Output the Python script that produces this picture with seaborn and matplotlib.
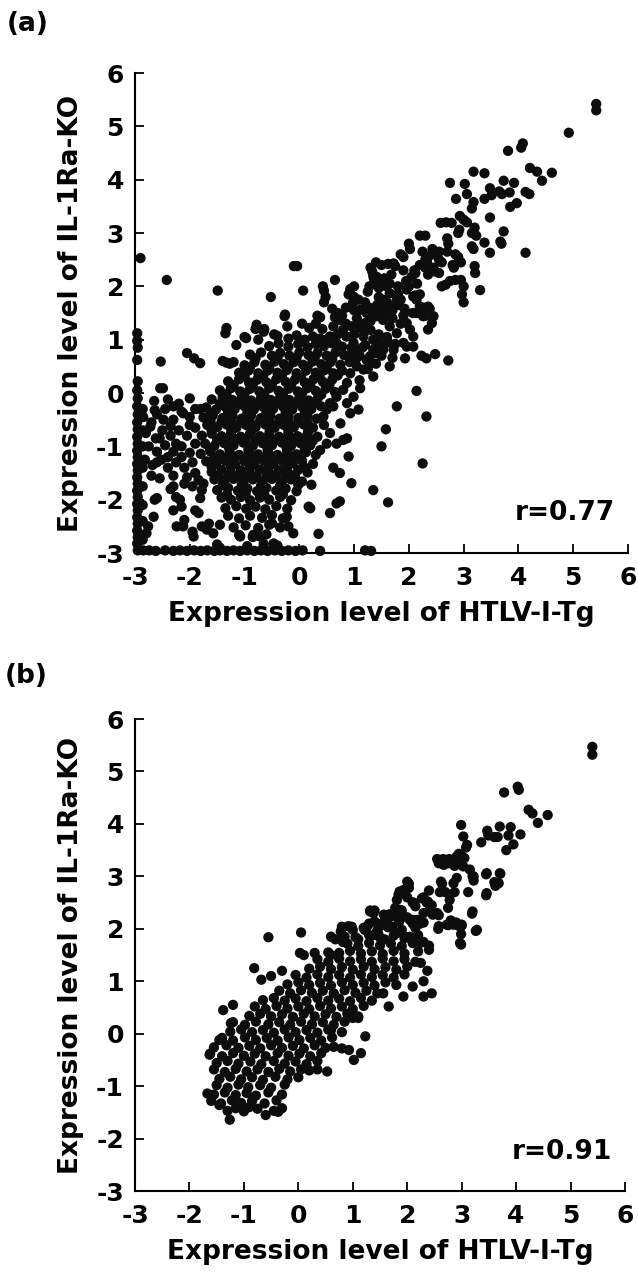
import matplotlib
matplotlib.use("Agg")
import pandas as pd
import matplotlib.pyplot as plt
import seaborn as sns

# --- panel (a): HTLV-I-Tg vs IL-1Ra-KO, r=0.77 ---
# values, grouped by region of the cloud
a_arm = [
    (5.42, 5.42), (5.42, 5.30), (4.92, 4.88), (3.81, 4.54), (4.05, 4.60), (4.08, 4.68),
    (4.21, 4.22), (4.34, 4.15), (4.61, 4.13), (4.43, 3.98), (3.18, 4.15), (3.38, 4.12),
    (2.75, 3.94), (3.02, 3.92), (2.86, 3.64), (3.06, 3.73), (3.18, 3.58), (3.15, 3.46),
    (3.38, 3.64), (3.48, 3.84), (3.51, 3.71), (3.73, 3.98), (3.65, 3.78), (3.70, 3.73),
    (3.92, 3.94), (3.84, 3.76), (4.13, 3.77), (4.20, 3.73), (3.97, 3.56), (3.85, 3.49),
    (3.48, 3.29), (3.73, 3.03), (3.67, 2.84), (3.69, 2.80), (3.48, 2.63), (4.13, 2.63),
    (3.38, 2.82), (3.20, 3.10), (3.15, 3.00), (3.23, 2.95), (3.15, 2.75), (3.18, 2.70),
    (2.93, 3.32), (3.00, 3.25), (3.06, 3.20), (2.58, 3.19), (2.68, 3.20), (2.78, 3.19),
    (2.90, 3.00), (2.92, 3.06), (2.70, 2.90), (2.72, 2.80), (2.55, 2.65), (2.70, 2.65),
    (2.85, 2.60), (2.90, 2.55), (2.80, 2.40), (2.82, 2.35), (2.95, 2.45), (2.55, 2.25),
    (3.20, 2.38), (3.21, 2.25), (2.95, 2.12), (2.85, 2.12), (2.75, 2.10), (2.60, 2.00),
    (2.67, 2.03), (3.30, 1.93), (3.00, 2.00), (2.97, 1.85), (3.00, 1.70), (2.43, 2.70),
    (2.45, 2.60), (2.30, 2.50), (2.33, 2.45), (2.25, 2.65), (2.45, 2.35), (2.47, 2.28),
    (2.30, 2.35), (2.35, 2.22), (2.20, 2.95), (2.30, 2.95), (2.00, 2.80), (2.02, 2.70),
    (1.85, 2.60), (1.90, 2.55), (2.10, 2.30), (2.12, 2.25), (1.90, 2.30), (2.05, 2.18),
    (1.95, 2.10), (2.15, 2.05), (2.00, 2.00), (1.50, 2.40), (1.62, 2.42), (1.75, 2.38),
    (1.68, 2.22), (1.55, 2.15), (1.65, 2.05), (1.80, 2.00), (1.45, 1.97), (1.30, 2.35),
    (1.33, 2.28), (1.36, 2.15), (1.28, 2.00), (1.25, 1.90), (1.40, 2.45), (1.72, 2.43),
    (1.35, 2.20), (1.41, 2.18), (1.38, 2.06), (1.53, 2.12), (1.59, 2.00), (1.65, 1.87),
    (1.78, 1.75), (1.53, 1.75), (1.72, 1.62), (2.35, 2.55), (2.60, 2.45), (2.20, 2.40),
    (2.55, 2.50),
]

a_mid = [
    (1.00, 2.00), (0.93, 1.95), (0.90, 1.85), (1.00, 1.80), (1.08, 1.75), (0.98, 1.70),
    (0.65, 2.12), (0.43, 2.00), (0.45, 1.92), (0.48, 1.80), (0.45, 1.70), (0.07, 1.92),
    (-0.10, 2.38), (-0.04, 2.38), (-0.52, 1.80), (-0.26, 1.47), (-1.49, 1.92),
    (-2.42, 2.12), (-2.90, 2.53),
    (0.33, 1.45), (0.38, 1.42), (0.60, 1.58), (0.70, 1.50), (0.78, 1.45), (0.65, 1.42),
    (1.28, 1.60), (1.35, 1.52), (1.42, 1.65), (1.57, 1.58), (1.64, 1.50),
    (1.82, 1.65), (1.92, 1.58), (2.07, 1.50), (2.20, 1.85), (2.27, 1.60), (2.35, 1.62),
    (2.12, 1.83), (2.30, 1.55), (2.38, 1.58), (2.30, 1.45),
    (1.96, 1.94), (2.08, 1.81), (2.14, 1.75), (2.20, 1.62), (2.14, 1.50), (2.26, 1.44),
    (2.45, 1.44), (2.42, 1.31), (2.35, 1.19),
    (1.11, 1.56), (1.23, 1.50), (1.41, 1.44), (1.53, 1.37), (1.65, 1.25), (1.78, 1.12),
    (1.90, 0.94), (2.02, 1.19), (2.08, 1.06), (1.96, 1.31), (1.20, 1.31),
    (0.74, 1.37), (0.62, 1.25), (0.80, 1.19), (0.56, 1.06), (0.68, 0.94), (0.86, 1.06),
    (0.99, 0.94), (1.05, 0.81), (0.93, 0.69), (1.17, 1.06), (1.35, 1.00), (1.53, 0.87),
    (1.72, 0.81), (1.96, 0.87), (2.08, 0.87),
    (1.10, 1.25), (1.30, 1.18), (1.45, 1.10), (1.60, 1.05), (1.85, 1.30), (1.70, 1.40),
    (1.90, 1.45), (0.95, 1.25), (1.05, 1.40), (1.20, 0.90), (1.45, 0.95), (1.62, 0.95),
    (0.50, 1.00), (0.70, 1.10), (0.85, 1.30), (1.00, 1.10), (1.15, 1.20), (1.30, 1.35),
    (1.50, 1.50), (1.70, 1.55), (1.85, 1.75), (1.00, 1.55), (0.85, 1.60), (1.20, 1.70),
    (1.45, 1.80), (1.60, 1.70), (1.80, 1.85), (1.15, 0.85), (1.30, 0.55), (0.95, 0.85),
    (0.75, -0.57), (0.93, -0.38), (0.99, -0.07), (1.11, 0.09), (1.08, -0.31), (0.87, -0.19),
    (0.62, -0.25), (0.50, -0.31), (0.44, -0.44),
    (1.35, 0.31), (1.17, 0.44), (1.05, 0.50), (0.93, 0.37), (0.87, 0.19), (0.80, 0.06),
    (0.68, -0.07), (0.56, -0.19),
    (1.23, 0.62), (1.29, 0.69), (1.41, 0.75), (1.53, 0.81), (1.35, 0.81), (1.10, 0.70),
    (1.25, 0.45),
]

a_outliers = [
    (1.93, 0.65), (2.23, 0.70), (2.32, 0.65), (2.48, 0.73), (2.72, 0.61), (1.65, 0.50),
    (2.14, 0.04), (2.32, -0.44), (2.25, -1.32), (1.78, -0.25), (1.58, -0.68), (1.50, -1.00),
    (1.35, -1.82), (1.62, -2.05), (0.95, -1.69), (0.62, -1.40), (0.74, -1.50), (0.90, -1.19),
    (0.80, -0.88), (0.87, -0.85), (0.68, -0.95), (0.56, -0.75), (0.38, -1.07), (0.22, -1.72),
    (0.20, -2.16), (0.56, -2.25), (0.68, -2.07), (0.74, -2.03), (0.35, -2.64), (0.17, -2.13),
]

a_upper_left = [
    (-1.33, 1.22), (-0.78, 1.28), (-0.64, 1.20), (-0.46, 1.10), (-0.22, 1.25), (0.05, 1.30),
    (0.18, 1.22), (0.30, 1.30), (0.42, 1.20), (-1.35, 1.12), (-0.97, 1.03), (-0.80, 1.20),
    (-0.65, 1.15), (-0.27, 1.44), (-1.40, 0.60), (-1.33, 0.57), (-1.27, 0.55), (-2.05, 0.75),
    (-1.92, 0.65), (-1.81, 0.56), (-2.53, 0.59), (-2.49, 0.09), (-2.64, -0.32),
]

a_core = [
    (-1.00, 1.05), (-0.75, 1.00), (-0.40, 1.07), (-0.20, 1.02), (-0.05, 1.08), (0.10, 1.00),
    (0.25, 1.06), (0.38, 1.02),
    (-1.15, 0.90), (-0.55, 0.88), (-0.38, 0.93), (-0.20, 0.87), (-0.02, 0.92), (0.15, 0.86),
    (0.30, 0.92), (0.45, 0.88), (0.60, 0.93), (0.78, 0.87), (1.40, 0.86), (1.75, 0.92),
    (-0.90, 0.72), (-0.70, 0.76), (-0.50, 0.70), (-0.35, 0.75), (-0.18, 0.70), (0.00, 0.76),
    (0.17, 0.71), (0.33, 0.75), (0.50, 0.70), (0.66, 0.76), (0.82, 0.71), (1.05, 0.66),
    (1.50, 0.70), (1.70, 0.66),
    (-1.20, 0.58), (-1.00, 0.52), (-0.82, 0.58), (-0.62, 0.53), (-0.45, 0.59), (-0.28, 0.54),
    (-0.10, 0.58), (0.07, 0.53), (0.24, 0.59), (0.40, 0.54), (0.57, 0.58), (0.75, 0.53),
    (0.92, 0.58), (1.40, 0.55),
    (-1.10, 0.38), (-0.93, 0.42), (-0.75, 0.37), (-0.58, 0.42), (-0.40, 0.38), (-0.23, 0.43),
    (-0.05, 0.37), (0.12, 0.42), (0.30, 0.38), (0.46, 0.43), (0.62, 0.37), (0.78, 0.42),
    (-1.30, 0.22), (-1.10, 0.26), (-0.92, 0.20), (-0.77, 0.25), (-0.60, 0.20), (-0.42, 0.26),
    (-0.25, 0.21), (-0.08, 0.25), (0.10, 0.20), (0.26, 0.26), (0.43, 0.21), (0.60, 0.25),
    (1.10, 0.24),
    (-1.45, 0.05), (-1.25, 0.09), (-1.08, 0.03), (-0.90, 0.08), (-0.73, 0.03), (-0.55, 0.09),
    (-0.38, 0.04), (-0.20, 0.08), (-0.03, 0.03), (0.14, 0.09), (0.30, 0.04), (0.48, 0.08),
    (0.65, 0.02),
    (-1.60, -0.12), (-1.40, -0.08), (-1.22, -0.13), (-1.05, -0.08), (-0.88, -0.14),
    (-0.70, -0.09), (-0.52, -0.13), (-0.35, -0.08), (-0.18, -0.13), (0.00, -0.09),
    (0.17, -0.14), (0.34, -0.09),
    (-1.70, -0.27), (-1.52, -0.31), (-1.35, -0.26), (-1.18, -0.30), (-1.00, -0.25),
    (-0.83, -0.31), (-0.66, -0.26), (-0.48, -0.30), (-0.30, -0.25), (-0.13, -0.31),
    (0.05, -0.26), (0.22, -0.30), (0.40, -0.25),
    (-1.75, -0.46), (-1.58, -0.42), (-1.40, -0.47), (-1.22, -0.43), (-1.05, -0.48),
    (-0.88, -0.42), (-0.70, -0.47), (-0.53, -0.43), (-0.36, -0.48), (-0.20, -0.42),
    (-0.02, -0.47), (0.15, -0.43), (0.32, -0.48),
    (-1.68, -0.60), (-1.50, -0.64), (-1.33, -0.59), (-1.15, -0.65), (-0.97, -0.60),
    (-0.80, -0.64), (-0.62, -0.59), (-0.45, -0.65), (-0.28, -0.60), (-0.10, -0.64),
    (0.08, -0.59), (0.25, -0.65), (0.45, -0.60),
    (-1.78, -0.80), (-1.60, -0.76), (-1.42, -0.81), (-1.25, -0.77), (-1.07, -0.82),
    (-0.90, -0.76), (-0.72, -0.81), (-0.55, -0.77), (-0.37, -0.82), (-0.20, -0.76),
    (-0.03, -0.81), (0.15, -0.77), (0.33, -0.82),
    (-1.72, -0.95), (-1.55, -0.99), (-1.37, -0.94), (-1.20, -0.98), (-1.02, -0.93),
    (-0.85, -0.99), (-0.67, -0.94), (-0.50, -0.98), (-0.32, -0.93), (-0.15, -0.99),
    (0.02, -0.94), (0.20, -0.98), (0.50, -0.95),
    (-1.80, -1.14), (-1.62, -1.10), (-1.45, -1.15), (-1.27, -1.11), (-1.10, -1.16),
    (-0.92, -1.10), (-0.75, -1.15), (-0.57, -1.11), (-0.40, -1.16), (-0.22, -1.10),
    (-0.05, -1.15), (0.12, -1.11), (0.30, -1.16),
    (-1.70, -1.28), (-1.52, -1.32), (-1.35, -1.27), (-1.17, -1.33), (-1.00, -1.28),
    (-0.82, -1.32), (-0.65, -1.27), (-0.47, -1.33), (-0.30, -1.28), (-0.12, -1.32),
    (0.05, -1.27), (0.25, -1.33),
    (-1.60, -1.48), (-1.42, -1.44), (-1.25, -1.49), (-1.07, -1.45), (-0.90, -1.50),
    (-0.72, -1.44), (-0.55, -1.49), (-0.37, -1.45), (-0.20, -1.50), (-0.02, -1.44),
    (0.15, -1.49),
    (-1.55, -1.62), (-1.37, -1.66), (-1.20, -1.61), (-1.02, -1.67), (-0.85, -1.62),
    (-0.67, -1.66), (-0.50, -1.61), (-0.32, -1.67), (-0.15, -1.62), (0.05, -1.66),
    (-1.50, -1.82), (-1.30, -1.78), (-1.12, -1.83), (-0.95, -1.79), (-0.77, -1.84),
    (-0.60, -1.78), (-0.42, -1.83), (-0.25, -1.79), (-0.05, -1.84),
    (-1.42, -1.96), (-1.25, -2.00), (-1.07, -1.95), (-0.90, -2.01), (-0.72, -1.96),
    (-0.55, -2.00), (-0.35, -1.95), (-0.15, -2.01),
    (-1.35, -2.16), (-1.15, -2.12), (-0.97, -2.17), (-0.80, -2.13), (-0.62, -2.18),
    (-0.42, -2.12), (-0.22, -2.17),
    (-1.30, -2.30), (-1.10, -2.35), (-0.90, -2.30), (-0.68, -2.34), (-0.50, -2.29),
    (-0.30, -2.35),
    (-1.20, -2.52), (-0.98, -2.48), (-0.75, -2.53), (-0.55, -2.47), (-0.35, -2.52),
    (-1.10, -2.66), (-0.85, -2.70), (-0.60, -2.65),
    (-1.50, -2.84), (-0.95, -2.87), (-0.65, -2.83), (-0.40, -2.86),
]

# second layer in the darkest part of the cloud
a_core_fill = [
    (-1.45, -0.20), (-1.10, -0.19), (-0.78, -0.21), (-0.43, -0.20), (-0.10, -0.19),
    (0.25, -0.21), (-1.62, -0.54), (-1.25, -0.53), (-0.90, -0.55), (-0.55, -0.54),
    (-0.20, -0.53), (0.15, -0.55), (-1.50, -0.88), (-1.15, -0.87), (-0.80, -0.89),
    (-0.45, -0.88), (-0.10, -0.87), (0.25, -0.89), (-1.55, -1.22), (-1.20, -1.21),
    (-0.85, -1.23), (-0.50, -1.22), (-0.15, -1.21), (-1.30, -1.56), (-0.95, -1.55),
    (-0.60, -1.57), (-0.25, -1.56), (-1.20, 0.15), (-0.85, 0.14), (-0.50, 0.16),
    (-0.15, 0.15), (0.20, 0.14), (0.55, 0.16), (-0.90, 0.48), (-0.55, 0.47),
    (-0.20, 0.49), (0.15, 0.48), (0.50, 0.47),
    (-2.55, -0.85), (-2.25, -0.95), (-2.40, -1.20), (-2.15, -1.20), (-2.60, -1.30),
    (-2.00, -0.60), (-2.35, -0.62), (-1.95, -1.75), (-2.10, -1.70),
    (-1.27, -0.20), (-0.93, -0.20), (-0.60, -0.19), (-0.26, -0.21), (0.08, -0.20),
    (-1.62, -0.37), (-1.30, -0.36), (-0.95, -0.38), (-0.60, -0.37), (-0.25, -0.36),
    (0.10, -0.38), (-1.42, -0.54), (-1.07, -0.55), (-0.72, -0.53), (-0.37, -0.54),
    (-0.02, -0.55), (-1.60, -0.71), (-1.24, -0.70), (-0.88, -0.72), (-0.54, -0.71),
    (-0.20, -0.70), (0.16, -0.72), (-1.33, -0.88), (-0.98, -0.87), (-0.63, -0.89),
    (-0.28, -0.88), (0.08, -0.87), (-1.63, -1.05), (-1.28, -1.04), (-0.93, -1.06),
    (-0.58, -1.05), (-0.23, -1.04), (0.10, -1.06), (-1.38, -1.22), (-1.02, -1.21),
    (-0.68, -1.23), (-0.33, -1.22), (0.02, -1.21), (-1.60, -1.39), (-1.25, -1.38),
    (-0.90, -1.40), (-0.56, -1.39), (-0.22, -1.38), (0.10, -1.40), (-1.48, -1.56),
    (-1.12, -1.55), (-0.78, -1.57), (-0.43, -1.56), (-0.08, -1.55), (-1.40, -1.73),
    (-1.05, -1.72), (-0.70, -1.74), (-0.35, -1.73), (-0.02, -1.72), (-1.32, -1.90),
    (-0.98, -1.89), (-0.64, -1.91), (-0.30, -1.90), (-1.00, 0.32), (-0.66, 0.31),
    (-0.32, 0.33), (0.03, 0.32), (0.37, 0.31), (0.70, 0.33), (-1.33, -0.02),
    (-1.00, -0.01), (-0.64, -0.03), (-0.30, -0.02), (0.05, -0.01), (0.40, -0.03),
    (-0.80, 0.65), (-0.40, 0.64), (-0.05, 0.66), (0.28, 0.65), (0.60, 0.64),
]

a_left = [
    (-2.85, -0.45), (-2.70, -0.55), (-2.60, -0.40), (-2.45, -0.30), (-2.30, -0.50),
    (-2.15, -0.35), (-2.00, -0.45), (-1.90, -0.30), (-2.80, -0.75), (-2.62, -0.85),
    (-2.50, -0.70), (-2.35, -0.80), (-2.20, -0.70), (-2.05, -0.80), (-1.90, -0.65),
    (-2.75, -1.00), (-2.60, -1.10), (-2.45, -0.98), (-2.30, -1.10), (-2.15, -1.00),
    (-2.00, -1.12), (-1.90, -0.95), (-2.82, -1.25), (-2.68, -1.35), (-2.52, -1.25),
    (-2.40, -1.40), (-2.25, -1.30), (-2.10, -1.40), (-1.95, -1.30), (-2.70, -1.55),
    (-2.55, -1.60), (-2.30, -1.55), (-2.05, -1.58), (-1.90, -1.50), (-2.65, -0.15),
    (-2.40, -0.12), (-2.20, -0.20), (-2.00, -0.10), (-2.54, 0.09), (-2.30, -0.25),
    (-2.12, -0.38), (-1.81, -0.30), (-2.72, -0.63), (-2.48, -0.50),
    (-2.30, -1.75), (-2.60, -1.97), (-2.18, -2.00), (-2.15, -2.13), (-2.66, -2.32),
    (-2.30, -2.20), (-2.76, -2.50), (-2.79, -2.63), (-2.24, -2.50), (-2.12, -2.50),
    (-1.84, -2.25), (-1.78, -1.82), (-1.81, -1.97), (-1.84, -1.63), (-1.93, -2.69),
    (-1.78, -2.50), (-1.69, -2.56), (-1.57, -2.63), (-1.45, -2.47), (-1.08, -2.69),
    (-0.84, -2.66), (-0.72, -2.69), (-0.47, -2.82), (-0.23, -2.32), (-0.20, -2.50),
    (-0.11, -2.63), (-0.50, -2.44), (-2.64, -2.00), (-2.35, -1.80), (-2.25, -1.95),
    (-2.10, -2.38), (-1.95, -2.60), (-1.65, -2.45), (-1.90, -2.20), (-1.75, -1.70),
    (-1.45, -2.90),
]

# genes sitting on the -3 floor of either axis
a_floor_x = [
    (-2.96, 1.12), (-2.96, 0.98), (-2.95, 0.85), (-2.96, 0.62), (-2.95, 0.22), (-2.96, 0.05),
    (-2.95, -0.10), (-2.96, -0.25), (-2.95, -0.40), (-2.96, -0.55), (-2.95, -0.68),
    (-2.96, -0.82), (-2.95, -0.95), (-2.96, -1.08), (-2.95, -1.20), (-2.96, -1.33),
    (-2.95, -1.45), (-2.96, -1.58), (-2.95, -1.70), (-2.96, -1.83), (-2.95, -1.95),
    (-2.96, -2.08), (-2.95, -2.20), (-2.96, -2.33), (-2.95, -2.45), (-2.96, -2.58),
    (-2.95, -2.70), (-2.96, -2.82), (-2.95, -2.95),
    (-2.86, -0.30), (-2.86, -0.70), (-2.86, -1.00), (-2.86, -1.40), (-2.86, -1.75),
    (-2.86, -2.10), (-2.86, -2.40), (-2.86, -2.75),
]

a_floor_y = [
    (-2.85, -2.95), (-2.74, -2.95), (-2.62, -2.96), (-2.45, -2.95), (-2.30, -2.96),
    (-2.18, -2.95), (-2.05, -2.96), (-1.92, -2.95), (-1.80, -2.96), (-1.68, -2.95),
    (-1.55, -2.96), (-1.45, -2.95), (-1.32, -2.96), (-1.20, -2.95), (-1.08, -2.96),
    (-0.95, -2.95), (-0.82, -2.96), (-0.70, -2.95), (-0.58, -2.96), (-0.45, -2.95),
    (-0.32, -2.96), (-0.20, -2.95), (-0.07, -2.96), (0.06, -2.95), (0.38, -2.96),
    (1.20, -2.95), (1.31, -2.96),
]

# --- panel (b): r=0.91 ---
b_arm = [
    (5.40, 5.47), (5.40, 5.32), (3.78, 4.60), (4.03, 4.71), (4.05, 4.65), (4.23, 4.27),
    (4.30, 4.20), (4.58, 4.17), (4.40, 4.02),
    (2.99, 3.98), (3.03, 3.76), (3.10, 3.60), (3.08, 3.55), (3.36, 3.65), (3.47, 3.87),
    (3.49, 3.78), (3.70, 3.95), (3.60, 3.75), (3.66, 3.75), (3.90, 3.94), (3.86, 3.78),
    (4.08, 3.80), (3.95, 3.61), (3.82, 3.50),
    (3.45, 3.04), (3.71, 3.05), (3.60, 2.89), (3.62, 2.82), (3.45, 2.64), (3.19, 2.29),
    (3.26, 1.96), (3.12, 2.70), (3.20, 3.00), (3.22, 2.92),
    (2.95, 3.43), (3.00, 3.38), (3.05, 3.35), (2.55, 3.33), (2.66, 3.33), (2.77, 3.33),
    (2.87, 3.20), (2.62, 2.90), (2.64, 2.86), (2.60, 2.70), (2.70, 2.70), (2.87, 2.70),
    (2.78, 2.55), (2.75, 2.40),
    (2.80, 2.16), (2.90, 2.12), (3.00, 2.06), (2.57, 2.00), (2.75, 2.07), (2.99, 1.90),
    (2.99, 1.70), (2.40, 2.73), (2.03, 2.86), (2.03, 2.78), (1.86, 2.71), (1.92, 2.71),
    (2.30, 2.60), (2.38, 2.52), (2.45, 2.45), (2.55, 2.30), (2.10, 2.50), (2.15, 2.43),
    (2.30, 2.30), (1.68, 2.28), (1.84, 2.28), (1.90, 2.35), (2.00, 2.22), (2.10, 2.10),
    (1.32, 2.35), (1.40, 2.35), (1.30, 2.10), (1.22, 1.98), (1.10, 1.80), (1.50, 2.05),
    (1.47, 1.90), (1.58, 1.80), (0.92, 2.05), (1.00, 1.98), (0.78, 1.95), (0.85, 1.85),
    (0.82, 1.75), (0.60, 1.85), (0.68, 1.80), (0.55, 1.55), (0.60, 1.50), (0.05, 1.93),
    (-0.55, 1.84), (2.40, 1.60), (2.30, 1.75),
    (3.46, 3.06), (3.70, 3.06), (3.68, 2.87), (3.46, 2.68), (3.20, 2.33), (3.28, 1.98),
    (3.00, 2.08), (2.97, 1.73), (2.58, 2.05), (2.73, 2.08), (2.85, 2.08), (2.94, 2.06),
    (2.58, 3.25), (2.67, 3.22), (2.76, 3.25), (2.91, 3.38), (2.94, 3.28), (3.03, 3.19),
    (3.15, 3.13), (3.22, 3.00), (2.91, 2.97), (2.85, 2.87), (2.00, 2.90), (1.93, 2.74),
    (1.84, 2.65), (1.81, 2.55), (2.00, 2.60), (2.12, 2.50), (2.27, 2.58), (2.36, 2.50),
    (2.42, 2.40), (2.47, 2.27), (2.58, 2.26),
    (1.32, 2.33), (1.38, 2.30), (1.57, 2.27), (1.63, 2.17), (1.72, 2.24), (1.78, 2.40),
    (1.87, 2.36), (1.93, 2.24), (2.05, 2.17), (2.18, 2.17), (2.24, 2.10),
    (0.80, 2.04), (0.98, 2.04), (0.83, 1.85), (1.26, 2.04), (1.38, 1.88), (1.53, 2.10),
    (1.72, 2.04), (1.81, 1.92), (1.96, 1.85), (2.05, 1.85), (2.18, 1.85), (2.24, 1.73),
]

b_band = [
    (-1.30, -1.47), (-1.15, -1.42), (-1.00, -1.48), (-0.75, -1.43), (-0.45, -1.47),
    (-0.30, -1.42),
    (-1.60, -1.28), (-1.42, -1.33), (-1.22, -1.27), (-1.05, -1.32), (-0.85, -1.28),
    (-0.62, -1.33), (-0.40, -1.27),
    (-1.55, -1.16), (-1.35, -1.12), (-1.15, -1.17), (-0.95, -1.13), (-0.78, -1.18),
    (-0.55, -1.12), (-0.30, -1.16),
    (-1.50, -0.98), (-1.30, -1.03), (-1.10, -0.97), (-0.92, -1.02), (-0.70, -0.98),
    (-0.50, -1.03), (-0.25, -0.97),
    (-1.45, -0.86), (-1.25, -0.82), (-1.05, -0.87), (-0.85, -0.83), (-0.65, -0.88),
    (-0.42, -0.82), (-0.20, -0.87), (0.00, -0.83),
    (-1.55, -0.68), (-1.35, -0.73), (-1.15, -0.67), (-0.95, -0.72), (-0.75, -0.68),
    (-0.55, -0.73), (-0.35, -0.67), (-0.15, -0.72), (0.05, -0.68),
    (-1.50, -0.56), (-1.30, -0.52), (-1.10, -0.57), (-0.88, -0.53), (-0.68, -0.58),
    (-0.45, -0.52), (-0.25, -0.57), (-0.05, -0.53), (0.15, -0.58), (0.35, -0.52),
    (-1.62, -0.38), (-1.40, -0.43), (-1.20, -0.37), (-1.00, -0.42), (-0.80, -0.38),
    (-0.60, -0.43), (-0.38, -0.37), (-0.18, -0.42), (0.02, -0.38), (0.22, -0.43),
    (0.42, -0.37),
    (-1.55, -0.26), (-1.32, -0.22), (-1.10, -0.27), (-0.90, -0.23), (-0.70, -0.28),
    (-0.50, -0.22), (-0.30, -0.27), (-0.10, -0.23), (0.10, -0.28), (0.30, -0.22),
    (0.50, -0.27),
    (-1.40, -0.08), (-1.20, -0.13), (-0.98, -0.07), (-0.78, -0.12), (-0.58, -0.08),
    (-0.38, -0.13), (-0.18, -0.07), (0.02, -0.12), (0.22, -0.08), (0.42, -0.13),
    (0.62, -0.07),
    (-1.25, 0.04), (-1.05, 0.08), (-0.85, 0.03), (-0.65, 0.07), (-0.45, 0.02),
    (-0.25, 0.08), (-0.05, 0.03), (0.15, 0.07), (0.35, 0.02), (0.55, 0.08), (0.80, 0.03),
    (-1.20, 0.22), (-0.98, 0.17), (-0.78, 0.23), (-0.55, 0.18), (-0.35, 0.22),
    (-0.15, 0.17), (0.05, 0.23), (0.25, 0.18), (0.45, 0.22), (0.65, 0.17), (0.85, 0.23),
    (-0.90, 0.34), (-0.70, 0.38), (-0.50, 0.33), (-0.30, 0.37), (-0.10, 0.32),
    (0.10, 0.38), (0.30, 0.33), (0.50, 0.37), (0.70, 0.32), (0.90, 0.38), (1.10, 0.33),
    (-0.80, 0.52), (-0.60, 0.47), (-0.40, 0.53), (-0.20, 0.48), (0.00, 0.52),
    (0.20, 0.47), (0.40, 0.53), (0.60, 0.48), (0.80, 0.52), (1.00, 0.47), (1.20, 0.53),
    (-0.65, 0.64), (-0.45, 0.68), (-0.25, 0.63), (-0.05, 0.67), (0.15, 0.62),
    (0.35, 0.68), (0.55, 0.63), (0.75, 0.67), (0.95, 0.62), (1.15, 0.68), (1.35, 0.63),
    (-0.35, 0.82), (-0.15, 0.77), (0.05, 0.83), (0.25, 0.78), (0.45, 0.82), (0.65, 0.77),
    (0.85, 0.83), (1.05, 0.78), (1.25, 0.82), (1.45, 0.77),
    (-0.20, 0.94), (0.00, 0.98), (0.20, 0.93), (0.40, 0.97), (0.60, 0.92), (0.80, 0.98),
    (1.00, 0.93), (1.20, 0.97), (1.40, 0.92), (1.60, 0.98), (1.80, 0.93),
    (-0.05, 1.12), (0.15, 1.07), (0.35, 1.13), (0.55, 1.08), (0.75, 1.12), (0.95, 1.07),
    (1.15, 1.13), (1.35, 1.08), (1.55, 1.12), (1.75, 1.07), (1.95, 1.13),
    (0.20, 1.24), (0.40, 1.28), (0.60, 1.23), (0.80, 1.27), (1.00, 1.22), (1.20, 1.28),
    (1.40, 1.23), (1.60, 1.27), (1.80, 1.22), (2.00, 1.28),
    (0.35, 1.42), (0.55, 1.37), (0.75, 1.43), (0.95, 1.38), (1.15, 1.42), (1.35, 1.37),
    (1.55, 1.43), (1.75, 1.38), (1.95, 1.42), (2.15, 1.37),
    (0.75, 1.54), (0.95, 1.58), (1.15, 1.53), (1.35, 1.57), (1.55, 1.52), (1.75, 1.58),
    (1.95, 1.53), (2.20, 1.57),
    (0.90, 1.72), (1.10, 1.67), (1.30, 1.73), (1.50, 1.68), (1.70, 1.72), (1.90, 1.67),
    (2.10, 1.73), (2.40, 1.68),
    (1.05, 1.84), (1.30, 1.88), (1.50, 1.83), (1.75, 1.87), (1.95, 1.82), (2.20, 1.88),
    (1.20, 2.02), (1.45, 1.97), (1.65, 2.03), (1.90, 1.98), (2.15, 2.02),
    (1.40, 2.14), (1.60, 2.18), (1.85, 2.13), (2.10, 2.17), (2.30, 2.12),
]

b_sparse = [
    (-1.63, -0.40), (-1.45, -0.12), (-1.38, 0.45), (-1.20, 0.55), (-1.24, 0.20),
    (-1.67, -1.14), (-1.45, -1.36), (-1.26, -1.64), (-0.81, 1.25), (0.20, -0.70),
    (0.35, -0.68), (0.53, -0.72), (0.65, -0.25), (0.80, -0.28), (0.93, -0.31),
    (1.02, -0.50), (1.15, -0.37), (1.23, -0.05), (1.00, 0.30), (1.10, 0.30), (0.60, 0.07),
    (1.56, 0.77), (1.66, 0.52), (1.93, 0.71), (2.30, 0.71), (2.45, 0.77), (-0.68, 1.03),
    (-0.50, 1.10), (-0.30, 1.20), (0.03, 1.54), (0.10, 1.50), (0.30, 1.54), (2.10, 0.90),
    (2.30, 1.00), (2.37, 1.20), (2.25, 1.35), (-0.90, -1.40), (-0.60, -1.55),
    (-0.37, -1.49),
]


def to_frame(*groups):
    pts = [p for g in groups for p in g]
    return pd.DataFrame(pts, columns=["htlv", "il1ra"])


df_a = to_frame(a_arm, a_mid, a_outliers, a_upper_left, a_core, a_core_fill, a_left,
                a_floor_x, a_floor_y)
df_b = to_frame(b_arm, b_band, b_sparse)

sns.set_style("ticks")
plt.rcParams["font.family"] = ["DejaVu Sans"]
plt.rcParams["axes.unicode_minus"] = False
plt.rcParams["text.color"] = "black"

fig = plt.figure(figsize=(6.38, 12.74), dpi=100)
ax_a = fig.add_axes([0.2116, 0.5659, 0.7727, 0.3768])
ax_b = fig.add_axes([0.2116, 0.0651, 0.7680, 0.3705])


def draw_panel(ax, df, r_text):
    sns.scatterplot(data=df, x="htlv", y="il1ra", ax=ax, s=55, color="#0d0d0d",
                    edgecolor="none", linewidth=0, legend=False, clip_on=False, zorder=3)
    ax.set_xlim(-3, 6)
    ax.set_ylim(-3, 6)
    ax.set_xticks(range(-3, 7))
    ax.set_yticks(range(-3, 7))
    sns.despine(ax=ax)
    for side in ["left", "bottom"]:
        ax.spines[side].set_linewidth(1.5)
        ax.spines[side].set_color("black")
    ax.tick_params(direction="in", length=6.5, width=1.3, colors="black", labelsize=18)
    ax.tick_params(axis="x", pad=9)
    ax.tick_params(axis="y", pad=8)
    for lab in ax.get_xticklabels() + ax.get_yticklabels():
        lab.set_fontweight("bold")
    ax.set_xlabel("Expression level of HTLV-I-Tg", fontsize=19, fontweight="bold",
                  color="black", labelpad=8)
    ax.set_ylabel("Expression level of IL-1Ra-KO", fontsize=19, fontweight="bold",
                  color="black", labelpad=9)
    ax.text(5.76, -2.25, r_text, ha="right", va="center", fontsize=19,
            fontweight="bold", color="black")


draw_panel(ax_a, df_a, "r=0.77")
draw_panel(ax_b, df_b, "r=0.91")

fig.text(0.011, 1 - 11 / 1274, "(a)", ha="left", va="top", fontsize=19,
         fontweight="bold", color="black")
fig.text(0.008, 1 - 663 / 1274, "(b)", ha="left", va="top", fontsize=19,
         fontweight="bold", color="black")

fig.savefig("out.png", dpi=100)
